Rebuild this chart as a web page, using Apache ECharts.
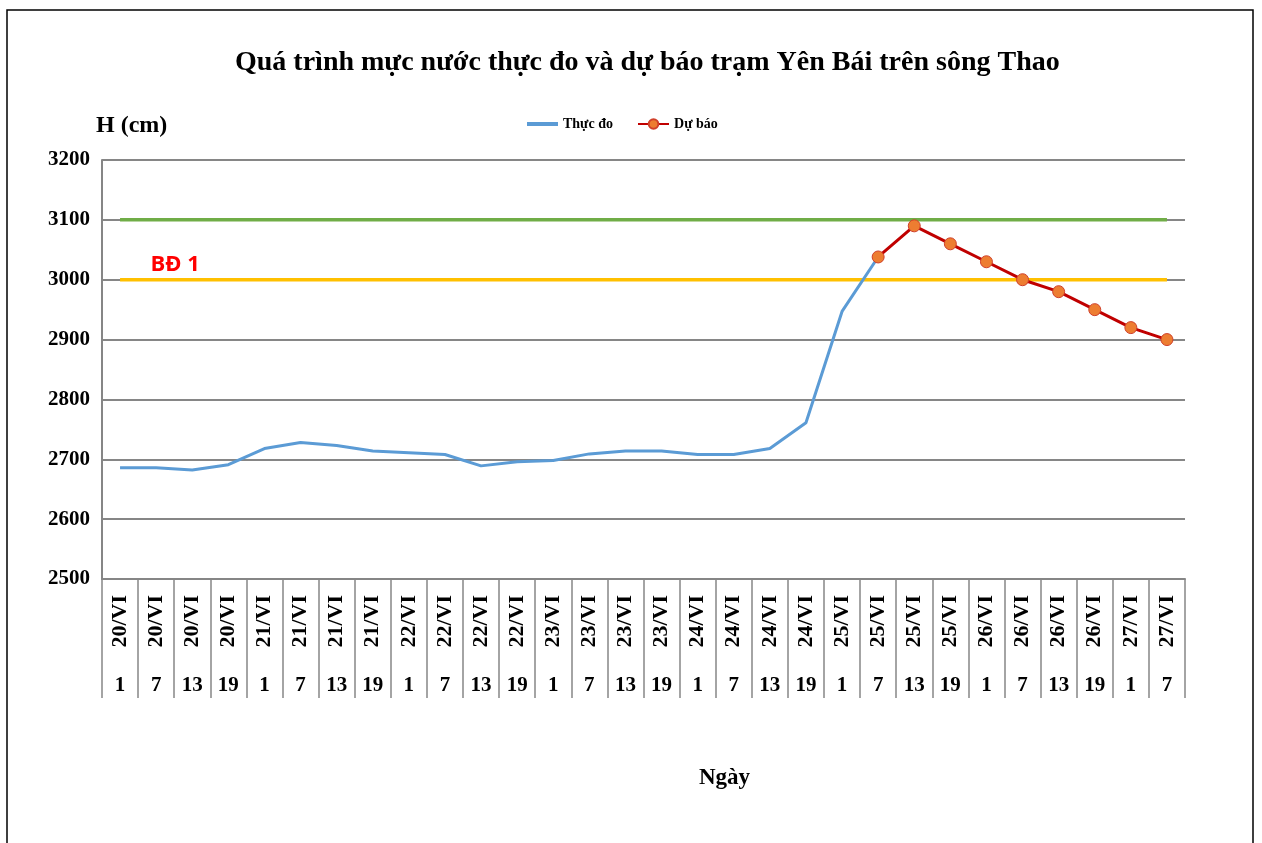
<!DOCTYPE html>
<html>
<head>
<meta charset="utf-8">
<script src="https://cdn.jsdelivr.net/npm/echarts@6/dist/echarts.min.js"></script>
<style>
html,body{margin:0;padding:0;background:#fff;}
#chart{width:1262px;height:843px;}
</style>
</head>
<body>
<div id="chart"></div>
<script>
// ---- Data ----
const dateLabels = ['20/VI','20/VI','20/VI','20/VI','21/VI','21/VI','21/VI','21/VI','22/VI','22/VI','22/VI','22/VI',
  '23/VI','23/VI','23/VI','23/VI','24/VI','24/VI','24/VI','24/VI','25/VI','25/VI','25/VI','25/VI',
  '26/VI','26/VI','26/VI','26/VI','27/VI','27/VI'];
const hourLabels = ['1','7','13','19','1','7','13','19','1','7','13','19','1','7','13','19',
  '1','7','13','19','1','7','13','19','1','7','13','19','1','7'];
const observed = [2686,2686,2682,2691,2718,2728,2723,2714,2711,2708,2689,2696,2698,2709,2714,2714,
  2708,2708,2718,2761,2947,3038,null,null,null,null,null,null,null,null];
const forecast = [null,null,null,null,null,null,null,null,null,null,null,null,null,null,null,null,
  null,null,null,null,null,3038,3090,3060,3030,3000,2980,2950,2920,2900];
const level3100 = dateLabels.map(() => 3100);
const alarm1 = dateLabels.map(() => 3000);
const alarmLabel = 'BĐ 1';
const yTicks = {min: 2500, max: 3200, step: 100};

const serif = '"Liberation Serif", "Times New Roman", serif';
const chart = echarts.init(document.getElementById('chart'));

chart.setOption({
  animation: false,
  backgroundColor: '#fff',
  title: {
    text: 'Quá trình mực nước thực đo và dự báo trạm Yên Bái trên sông Thao',
    left: 230, top: 44,
    textStyle: {fontFamily: serif, fontWeight: 'bold', fontSize: 28, color: '#000'}
  },
  legend: {
    data: [
      {name: 'Thực đo', icon: 'path://M0,0 L31,0 L31,4 L0,4 Z'},
      {name: 'Dự báo'}
    ],
    left: 522, top: 112,
    itemWidth: 31, itemHeight: 12, itemGap: 24,
    textStyle: {fontFamily: serif, fontWeight: 'bold', fontSize: 14, color: '#000'}
  },
  grid: {left: 102, right: 77, top: 160, bottom: 264},
  xAxis: [{
    type: 'category',
    data: dateLabels,
    boundaryGap: true,
    axisLine: {lineStyle: {color: '#868686', width: 2}},
    axisTick: {show: true, length: 119, interval: 0, lineStyle: {color: '#868686', width: 1.5}},
    axisLabel: {interval: 0, rotate: 90, margin: 16, fontFamily: serif, fontWeight: 'bold', fontSize: 22, color: '#000'},
    splitLine: {show: false}
  }, {
    type: 'category',
    data: hourLabels,
    position: 'bottom',
    offset: 96,
    boundaryGap: true,
    axisLine: {show: false},
    axisTick: {show: false},
    axisLabel: {interval: 0, margin: 0, fontFamily: serif, fontWeight: 'bold', fontSize: 21, color: '#000'},
    splitLine: {show: false}
  }],
  yAxis: {
    type: 'value',
    min: yTicks.min, max: yTicks.max, interval: yTicks.step,
    name: 'H (cm)', nameLocation: 'end', nameGap: 34,
    nameTextStyle: {align: 'left', verticalAlign: 'middle', padding: [0, 0, 0, -6],
      fontFamily: serif, fontWeight: 'bold', fontSize: 24, color: '#000'},
    axisLine: {show: true, lineStyle: {color: '#868686', width: 2}},
    axisTick: {show: false},
    axisLabel: {margin: 12, formatter: v => String(v), fontFamily: serif, fontWeight: 'bold', fontSize: 21, color: '#000'},
    splitLine: {show: true, lineStyle: {color: '#868686', width: 2}}
  },
  graphic: [{
    type: 'rect', shape: {x: 7, y: 10, width: 1246, height: 860},
    style: {fill: 'none', stroke: '#000', lineWidth: 1.5}, silent: true
  }, {
    type: 'text', left: 699, top: 767,
    style: {text: 'Ngày', font: 'bold 23px ' + serif, fill: '#000'}
  }],
  series: [{
    name: 'Thực đo', type: 'line', data: observed,
    showSymbol: false, symbol: 'none',
    lineStyle: {color: '#5b9bd5', width: 3}, itemStyle: {color: '#5b9bd5'}, z: 3
  }, {
    name: 'Dự báo', type: 'line', data: forecast,
    symbol: 'circle', symbolSize: 12,
    lineStyle: {color: '#c00000', width: 3},
    itemStyle: {color: '#ed7d31', borderColor: '#d0402a', borderWidth: 1}, z: 4
  }, {
    name: 'level3100', type: 'line', data: level3100, symbol: 'none',
    lineStyle: {color: '#70ad47', width: 3.5}, z: 2, silent: true
  }, {
    name: 'alarm1', type: 'line', data: alarm1, symbol: 'none',
    lineStyle: {color: '#ffc000', width: 3.5}, z: 2, silent: true,
    markPoint: {
      symbol: 'circle', symbolSize: 1, itemStyle: {color: 'rgba(0,0,0,0)'},
      data: [{coord: [1, 3000], value: alarmLabel}],
      label: {show: true, formatter: alarmLabel, position: 'top', distance: 3, offset: [19, 0],
        color: '#ff0000', fontWeight: 'bold', fontSize: 22, fontFamily: '"Open Sans", "Noto Sans", sans-serif'}
    }
  }]
});
</script>
</body>
</html>
